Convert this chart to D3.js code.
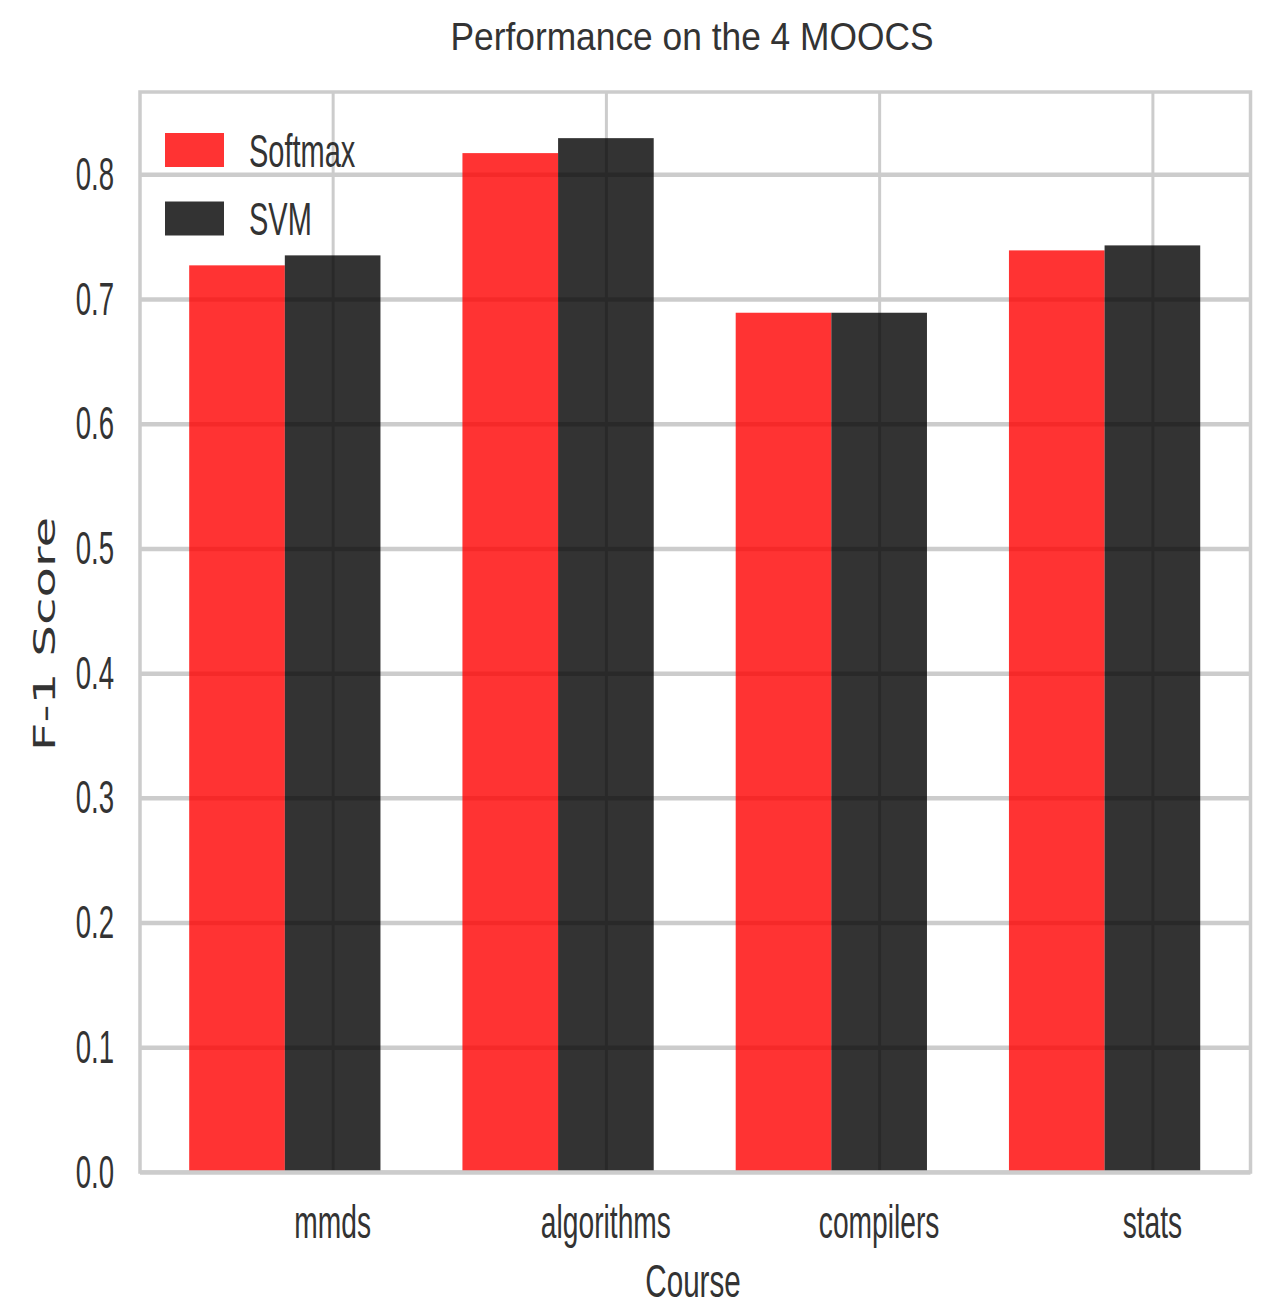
<!DOCTYPE html>
<html>
<head>
<meta charset="utf-8">
<script src="https://cdn.jsdelivr.net/npm/d3@7"></script>
<style>
  html, body { margin: 0; padding: 0; background: #fff; }
  svg { display: block; }
</style>
</head>
<body>
<svg id="chart" width="1274" height="1307"></svg>
<script>
const courses = ["mmds", "algorithms", "compilers", "stats"];
const softmaxScores = [0.727, 0.817, 0.689, 0.739];
const svmScores = [0.735, 0.829, 0.689, 0.743];
const seriesNames = ["Softmax", "SVM"];
const seriesColors = ["#ff0000", "#000000"];
const yTicks = [0.0, 0.1, 0.2, 0.3, 0.4, 0.5, 0.6, 0.7, 0.8];
const titleText = "Performance on the 4 MOOCS";
const xLabel = "Course";
const yLabel = "F-1 Score";

const barWidth = 0.35;
const tickOffset = 0.525;

const svg = d3.select("#chart");
const plot = { left: 140, right: 1250.5, top: 92, bottom: 1172 };

const x = d3.scaleLinear().domain([-0.18, 3.884]).range([plot.left, plot.right]);
const y = d3.scaleLinear().domain([0, 0.866]).range([plot.bottom, plot.top]);

const gridColor = "#cccccc";
const textColor = "#333333";

// horizontal grid lines
const gY = svg.append("g")
  .attr("transform", `translate(${plot.left},0)`)
  .call(d3.axisLeft(y).tickValues(yTicks).tickSize(-(plot.right - plot.left)).tickFormat(""));
gY.select(".domain").remove();
gY.selectAll("line").attr("stroke", gridColor).attr("stroke-width", 4.5);

// vertical grid lines
const xTickVals = courses.map((c, i) => i + tickOffset);
const gX = svg.append("g")
  .attr("transform", `translate(0,${plot.bottom})`)
  .call(d3.axisBottom(x).tickValues(xTickVals).tickSize(-(plot.bottom - plot.top)).tickFormat(""));
gX.select(".domain").remove();
gX.selectAll("line").attr("stroke", gridColor).attr("stroke-width", 3);

// bars
const allSeries = [softmaxScores, svmScores];
allSeries.forEach((vals, s) => {
  svg.append("g").selectAll("rect")
    .data(vals)
    .join("rect")
    .attr("x", (d, i) => x(i + s * barWidth))
    .attr("width", (d, i) => x(i + (s + 1) * barWidth) - x(i + s * barWidth))
    .attr("y", d => y(d))
    .attr("height", d => y(0) - y(d))
    .attr("fill", seriesColors[s])
    .attr("fill-opacity", 0.8);
});

// frame
svg.append("rect")
  .attr("x", plot.left).attr("y", plot.top)
  .attr("width", plot.right - plot.left).attr("height", plot.bottom - plot.top)
  .attr("fill", "none").attr("stroke", gridColor).attr("stroke-width", 3.5);

const font = "'Liberation Sans', Arial, sans-serif";

function squishText(g, tx, ty, sx, txt, opts) {
  const t = g.append("g").attr("transform", `translate(${tx},${ty}) scale(${sx},1)`)
    .append("text")
    .attr("x", 0).attr("y", 0)
    .attr("font-family", opts.family || font)
    .attr("font-size", opts.size)
    .attr("fill", textColor)
    .attr("text-anchor", opts.anchor || "start")
    .text(txt);
  return t;
}

// y tick labels
yTicks.forEach(v => {
  squishText(svg, 114, y(v) + 15.5, 0.6, d3.format(".1f")(v), { size: 46, anchor: "end" });
});

// x tick labels
courses.forEach((c, i) => {
  squishText(svg, x(i + tickOffset), 1237.5, 0.6, c, { size: 47, anchor: "middle" });
});

// x label
squishText(svg, 693, 1297, 0.63, xLabel, { size: 47, anchor: "middle" });

// title
squishText(svg, 692, 50, 0.93, titleText, { size: 38, anchor: "middle" });

// y label (rotated, squished along screen x)
svg.append("g").attr("transform", `translate(55,634) scale(0.61,1) rotate(-90)`)
  .append("text")
  .attr("font-family", "'DejaVu Sans', sans-serif")
  .attr("font-size", 50)
  .attr("fill", textColor)
  .attr("text-anchor", "middle")
  .text(yLabel);

// legend
const legendY = [150, 218.5];
seriesNames.forEach((name, s) => {
  svg.append("rect")
    .attr("x", 165).attr("y", legendY[s] - 17)
    .attr("width", 59).attr("height", 34)
    .attr("fill", seriesColors[s]).attr("fill-opacity", 0.8);
  squishText(svg, 249, legendY[s] + 16.5, 0.63, name, { size: 46 });
});
</script>
</body>
</html>
